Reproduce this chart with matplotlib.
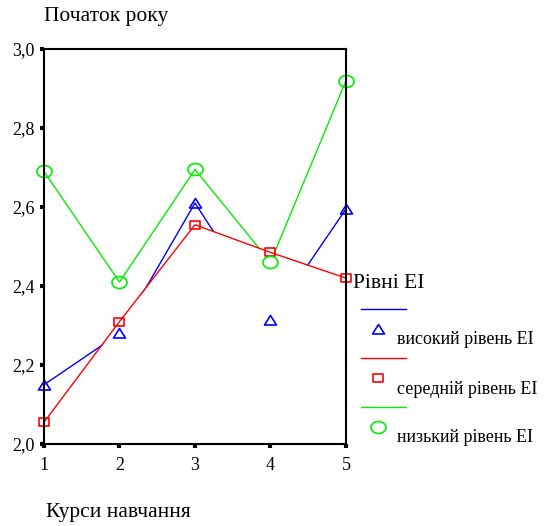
import numpy as np
import matplotlib
matplotlib.use("Agg")
import matplotlib.pyplot as plt
from matplotlib.lines import Line2D
from matplotlib.path import Path

plt.rcParams['font.family'] = ['Liberation Serif', 'DejaVu Serif']

# ---- data ----
courses = [1, 2, 3, 4, 5]
high = [2.15, 2.28, 2.61, 2.315, 2.595]
medium = [2.055, 2.31, 2.555, 2.485, 2.42]
low = [2.69, 2.41, 2.695, 2.46, 2.92]
series_names = ["високий рівень EI", "середній рівень EI", "низький рівень EI"]
title_text = "Початок року"
xlabel_text = "Курси навчання"
legend_title = "Рівні EI"
yticks = [2.0, 2.2, 2.4, 2.6, 2.8, 3.0]
ytick_labels = ["2,0", "2,2", "2,4", "2,6", "2,8", "3,0"]

W, H = 556, 526
fig = plt.figure(figsize=(W / 100, H / 100), dpi=100)
ax = fig.add_axes([44 / W, 1 - 444 / H, (346 - 44) / W, (444 - 49) / H])

# squat marker shapes
t = np.linspace(0, 2 * np.pi, 60)
ellipse = Path(np.column_stack([1.25 * np.cos(t), np.sin(t)]))
tri = Path([(-0.6, -0.45), (0.6, -0.45), (0, 0.5), (-0.6, -0.45)], closed=True)
rect = Path([(-0.65, -0.5), (0.65, -0.5), (0.65, 0.5), (-0.65, 0.5), (-0.65, -0.5)], closed=True)

colors = ["#0000ff", "#ff0000", "#00ee00"]
markers = [tri, rect, ellipse]
msizes = [12, 11, 15]
data = [high, medium, low]

lw = 1.0
ax.plot(courses, high, color=colors[0], lw=lw, zorder=2)
ax.plot(courses, low, color=colors[2], lw=lw, zorder=2)
ax.fill_between(courses, medium, 2.0, color="white", zorder=2.5, lw=0)
ax.plot(courses, medium, color=colors[1], lw=lw, zorder=3)
for d, c, m, s in zip(data, colors, markers, msizes):
    ax.plot(courses, d, ls="none", marker=m, ms=s * 0.72, mfc="none", mec=c,
            mew=1.2, zorder=4, clip_on=False)

ax.set_xlim(1, 5)
ax.set_ylim(2.0, 3.0)
ax.set_xticks(courses)
ax.set_xticklabels([str(c) for c in courses])
ax.set_yticks(yticks)
ax.set_yticklabels(ytick_labels)
ax.tick_params(direction="out", length=3, width=3, labelsize=13, pad=4)
ax.tick_params(axis="x", pad=6)
for sp in ax.spines.values():
    sp.set_linewidth(1.5)
    sp.set_zorder(5)

fig.text(44 / W, 1 - 17 / H, title_text, fontsize=15.5, ha="left", va="center")
fig.text(46 / W, 1 - 513 / H, xlabel_text, fontsize=15.5, ha="left", va="center")

# legend (SPSS style)
fig.text(353 / W, 1 - 284 / H, legend_title, fontsize=15.5, ha="left", va="center")
line_y = [309, 358, 407]
mark_y = [329, 378, 427]
text_y = [340, 389, 438]
for i in range(3):
    fig.add_artist(Line2D([361 / W, 406 / W], [1 - line_y[i] / H] * 2,
                          transform=fig.transFigure, color=colors[i], lw=lw))
    fig.add_artist(Line2D([378 / W], [1 - mark_y[i] / H], transform=fig.transFigure,
                          ls="none", marker=markers[i], ms=msizes[i] * 0.72,
                          mfc="none", mec=colors[i], mew=1.2))
    fig.text(397 / W, 1 - text_y[i] / H, series_names[i], fontsize=13, ha="left", va="center")

fig.savefig("out.png", dpi=100)
